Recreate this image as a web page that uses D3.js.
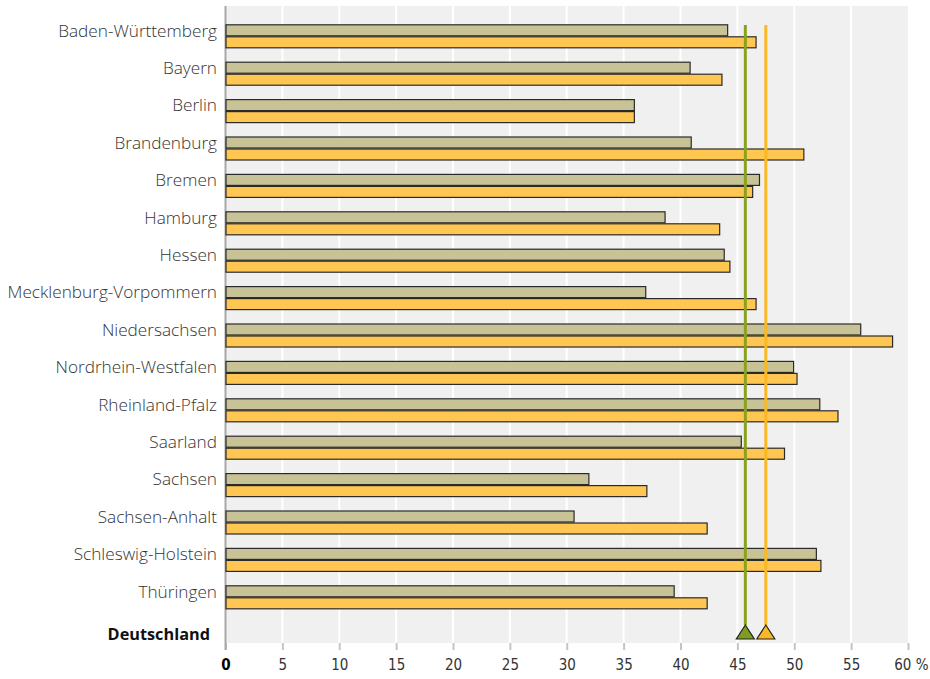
<!DOCTYPE html>
<html><head><meta charset="utf-8">
<script src="https://cdn.jsdelivr.net/npm/d3@7"></script>
<style>
html,body{margin:0;padding:0;background:#fff;}
svg{display:block;}
</style></head>
<body>
<svg id="chart" width="930" height="679"></svg>
<script>
const states = ["Baden-Württemberg","Bayern","Berlin","Brandenburg","Bremen","Hamburg","Hessen","Mecklenburg-Vorpommern","Niedersachsen","Nordrhein-Westfalen","Rheinland-Pfalz","Saarland","Sachsen","Sachsen-Anhalt","Schleswig-Holstein","Thüringen"];
const seriesA = [44.1, 40.8, 35.9, 40.9, 46.9, 38.6, 43.8, 36.9, 55.8, 49.9, 52.2, 45.3, 31.9, 30.6, 51.9, 39.4];
const seriesB = [46.6, 43.6, 35.9, 50.8, 46.3, 43.4, 44.3, 46.6, 58.6, 50.2, 53.8, 49.1, 37.0, 42.3, 52.3, 42.3];
const nationalLabel = "Deutschland";
const nationalValues = [45.7, 47.5];
const ticks = [0,5,10,15,20,25,30,35,40,45,50,55,60];

const svg = d3.select("#chart");
const x = d3.scaleLinear().domain([0,60]).range([225.5, 908]);
const rows = states.concat([nationalLabel]);
const step = 37.4, inner = 0.358;
const y0 = 24.3 - (inner/2)*step;
const y = d3.scaleBand().domain(rows).range([y0, y0 + step*rows.length]).paddingInner(inner).paddingOuter(inner/2);
const bw = y.bandwidth();
const plotTop = 6, plotBottom = 643;
const tickFont = "'Liberation Sans Narrow','DejaVu Sans Condensed',sans-serif";

// background
svg.append("rect").attr("x", x(0)).attr("y", plotTop).attr("width", x(60)-x(0)).attr("height", plotBottom-plotTop).attr("fill", "#f0f0f0");
// grid
svg.append("g").selectAll("line").data(ticks.filter(t=>t>0 && t<60)).join("line")
  .attr("x1", d=>x(d)).attr("x2", d=>x(d)).attr("y1", plotTop).attr("y2", plotBottom)
  .attr("stroke", "#fff").attr("stroke-width", 2);

// axis
const axis = d3.axisBottom(x).tickValues(ticks).tickSize(7).tickFormat(d => d===60 ? "" : d);
const ax = svg.append("g").attr("transform", `translate(0,${plotBottom})`).call(axis);
ax.select(".domain").remove();
ax.selectAll(".tick line").attr("stroke", "#c4c4c4").attr("stroke-width", 2);
ax.selectAll(".tick text").attr("y", 16).attr("dy", "0.71em")
  .style("font-family", tickFont)
  .style("font-stretch", "condensed")
  .style("font-size", "15px")
  .style("font-weight", d => d===0 ? "bold" : "normal")
  .attr("fill", d => d===0 ? "#000" : "#333");
ax.selectAll(".tick").filter(d=>d===60).append("text")
  .attr("x", 20).attr("y", 16).attr("dy", "0.71em").attr("text-anchor", "end")
  .style("font-family", tickFont)
  .style("font-stretch", "condensed")
  .style("font-size", "15px").attr("fill", "#333").text("60 %");

// y axis line
svg.append("line").attr("x1", x(0)).attr("x2", x(0)).attr("y1", plotTop).attr("y2", plotBottom+7)
  .attr("stroke", "#a8a8a8").attr("stroke-width", 2);

// bars
const gBars = svg.append("g");
states.forEach((s,i) => {
  gBars.append("rect").attr("x", x(0)+0.5).attr("y", y(s)+0.5).attr("width", x(seriesA[i])-x(0)).attr("height", bw/2-1)
    .attr("fill", "#c8c396").attr("stroke", "#2a2a2a").attr("stroke-width", 1.2);
  gBars.append("rect").attr("x", x(0)+0.5).attr("y", y(s)+bw/2+0.5).attr("width", x(seriesB[i])-x(0)).attr("height", bw/2-1)
    .attr("fill", "#ffc752").attr("stroke", "#2a2a2a").attr("stroke-width", 1.2);
});

// labels
svg.append("g").selectAll("text").data(states).join("text")
  .attr("x", 217).attr("y", d => y(d)+12.3)
  .attr("text-anchor", "end")
  .style("font-family", "'Open Sans',sans-serif").style("font-weight", 300)
  .style("font-size", "17.2px").attr("fill", "#333").text(d=>d);
svg.append("text").attr("x", 210).attr("y", y(nationalLabel)+bw/2+5.5)
  .attr("text-anchor", "end")
  .style("font-family", "'Open Sans',sans-serif").style("font-weight", "bold")
  .style("font-size", "16.3px").attr("fill", "#111").text(nationalLabel);

// national reference lines + triangles
const natColors = ["#8aa11f", "#f9b824"];
const triFill = ["#7f9b22", "#fbb826"];
const triTop = y(nationalLabel) + 2.3, triBot = y(nationalLabel) + 16.3;
nationalValues.forEach((v,i) => {
  svg.append("line").attr("x1", x(v)).attr("x2", x(v)).attr("y1", 25).attr("y2", triTop)
    .attr("stroke", natColors[i]).attr("stroke-width", 3);
  svg.append("path")
    .attr("d", `M${x(v)},${triTop} L${x(v)+9},${triBot} L${x(v)-9},${triBot} Z`)
    .attr("fill", triFill[i]).attr("stroke", "#222").attr("stroke-width", 1.2);
});
</script>
</body></html>
